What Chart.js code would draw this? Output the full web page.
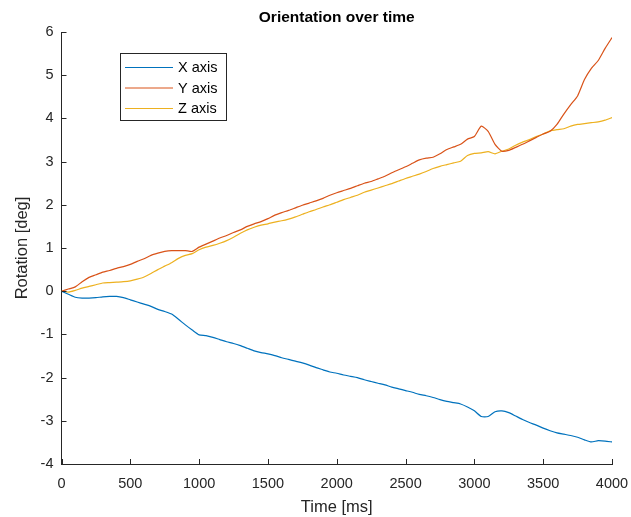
<!DOCTYPE html>
<html>
<head>
<meta charset="utf-8">
<script src="https://cdn.jsdelivr.net/npm/chart.js@4/dist/chart.umd.min.js"></script>
<style>
  html, body { margin: 0; padding: 0; background: #fff; }
  #wrap { width: 631px; height: 517px; }
</style>
</head>
<body>
<div id="wrap"><canvas id="chart" width="631" height="517"></canvas></div>
<script>
const titleText = "Orientation over time";
const xTitle = "Time [ms]";
const yTitle = "Rotation [deg]";
const seriesLabels = ["X axis", "Y axis", "Z axis"];
const seriesColors = ["#0072BD", "#D95319", "#EDB120"];

// time stamps in ms
const time = [
  0, 50, 100, 150, 200, 250, 300, 350, 400, 450,
  500, 550, 600, 650, 700, 750, 800, 850, 900, 950,
  1000, 1050, 1100, 1150, 1200, 1250, 1300, 1350, 1400, 1450,
  1500, 1550, 1600, 1650, 1700, 1750, 1800, 1850, 1900, 1950,
  2000, 2050, 2100, 2150, 2200, 2250, 2300, 2350, 2400, 2450,
  2500, 2550, 2600, 2650, 2700, 2750, 2800, 2850, 2900, 2950,
  3000, 3050, 3100, 3150, 3200, 3250, 3300, 3350, 3400, 3450,
  3500, 3550, 3600, 3650, 3700, 3750, 3800, 3850, 3900, 3950,
  4000
];

const rotX = [
  0, -0.07, -0.14, -0.16, -0.16, -0.15, -0.13, -0.12, -0.12, -0.15,
  -0.20, -0.25, -0.30, -0.35, -0.42, -0.47, -0.53, -0.65, -0.78, -0.90,
  -1.01, -1.03, -1.07, -1.12, -1.17, -1.21, -1.26, -1.32, -1.38, -1.42,
  -1.45, -1.49, -1.54, -1.58, -1.62, -1.66, -1.71, -1.77, -1.82, -1.87,
  -1.90, -1.94, -1.97, -2.00, -2.05, -2.09, -2.13, -2.17, -2.22, -2.26,
  -2.30, -2.34, -2.39, -2.42, -2.46, -2.51, -2.55, -2.58, -2.61, -2.68,
  -2.77, -2.90, -2.90, -2.79, -2.77, -2.81, -2.89, -2.97, -3.04, -3.10,
  -3.17, -3.23, -3.28, -3.31, -3.34, -3.38, -3.44, -3.49, -3.46, -3.47,
  -3.49
];

const rotY = [
  0, 0.05, 0.10, 0.22, 0.32, 0.38, 0.44, 0.48, 0.53, 0.57,
  0.62, 0.69, 0.75, 0.83, 0.88, 0.92, 0.94, 0.94, 0.94, 0.92,
  1.02, 1.09, 1.16, 1.23, 1.29, 1.36, 1.42, 1.50, 1.56, 1.61,
  1.68, 1.76, 1.82, 1.87, 1.93, 1.99, 2.04, 2.09, 2.15, 2.22,
  2.28, 2.33, 2.38, 2.44, 2.50, 2.54, 2.60, 2.66, 2.74, 2.81,
  2.88, 2.96, 3.04, 3.08, 3.10, 3.18, 3.28, 3.34, 3.40, 3.52,
  3.58, 3.82, 3.70, 3.40, 3.24, 3.26, 3.33, 3.40, 3.48, 3.56,
  3.64, 3.70, 3.86, 4.10, 4.32, 4.52, 4.90, 5.16, 5.34, 5.62,
  5.87
];

const rotZ = [
  0, -0.02, 0.02, 0.07, 0.11, 0.15, 0.19, 0.20, 0.21, 0.22,
  0.24, 0.28, 0.33, 0.41, 0.50, 0.58, 0.66, 0.76, 0.83, 0.87,
  0.96, 1.02, 1.06, 1.11, 1.17, 1.25, 1.34, 1.42, 1.48, 1.53,
  1.56, 1.60, 1.63, 1.67, 1.72, 1.78, 1.84, 1.89, 1.95, 2.00,
  2.06, 2.12, 2.17, 2.22, 2.29, 2.34, 2.39, 2.44, 2.49, 2.55,
  2.61, 2.66, 2.71, 2.77, 2.84, 2.89, 2.93, 2.97, 3.01, 3.14,
  3.19, 3.20, 3.23, 3.18, 3.24, 3.29, 3.38, 3.45, 3.51, 3.58,
  3.64, 3.71, 3.74, 3.76, 3.82, 3.86, 3.88, 3.90, 3.92, 3.96,
  4.02
];

const xMin = 0, xMax = 4000, xStep = 500;
const yMin = -4, yMax = 6, yStep = 1;

const axisColor = "#262626";
const fontFamily = "'Liberation Sans', Arial, Helvetica, sans-serif";

const toPoints = (vals) => vals.map((v, i) => ({ x: time[i], y: v }));

// MATLAB style extras: inward ticks, titles and a boxed legend
const matlabStyle = {
  id: "matlabStyle",
  afterDraw(chart) {
    const { ctx, chartArea, scales } = chart;
    const xs = scales.x, ys = scales.y;
    ctx.save();
    ctx.strokeStyle = axisColor;
    ctx.lineWidth = 1;
    ctx.beginPath();
    xs.ticks.forEach(t => {
      const px = Math.round(xs.getPixelForValue(t.value)) + 0.5;
      ctx.moveTo(px, chartArea.bottom);
      ctx.lineTo(px, chartArea.bottom - 5);
    });
    ys.ticks.forEach(t => {
      const py = Math.round(ys.getPixelForValue(t.value)) + 0.5;
      ctx.moveTo(chartArea.left, py);
      ctx.lineTo(chartArea.left + 5, py);
    });
    ctx.stroke();

    ctx.fillStyle = "#000";
    ctx.textAlign = "center";
    ctx.textBaseline = "middle";
    ctx.font = "bold 15.5px " + fontFamily;
    ctx.fillText(titleText, (chartArea.left + chartArea.right) / 2, 18);

    ctx.fillStyle = axisColor;
    ctx.font = "16.5px " + fontFamily;
    ctx.fillText(xTitle, (chartArea.left + chartArea.right) / 2, 507);
    ctx.save();
    ctx.translate(22, (chartArea.top + chartArea.bottom) / 2);
    ctx.rotate(-Math.PI / 2);
    ctx.fillText(yTitle, 0, 0);
    ctx.restore();

    // legend box
    const bx = 120.5, by = 53.5, bw = 106, bh = 67;
    ctx.fillStyle = "#fff";
    ctx.fillRect(bx, by, bw, bh);
    ctx.strokeStyle = "#262626";
    ctx.strokeRect(bx, by, bw, bh);
    ctx.font = "14.5px " + fontFamily;
    ctx.textAlign = "left";
    chart.data.datasets.forEach((ds, i) => {
      const ly = 67 + i * 20.5;
      ctx.strokeStyle = ds.borderColor;
      ctx.beginPath();
      ctx.moveTo(125, ly + 0.5);
      ctx.lineTo(173, ly + 0.5);
      ctx.stroke();
      ctx.fillStyle = "#000";
      ctx.fillText(ds.label, 178, ly + 1);
    });
    ctx.restore();
  }
};

new Chart(document.getElementById("chart"), {
  type: "line",
  data: {
    datasets: [
      { label: seriesLabels[0], data: toPoints(rotX), borderColor: seriesColors[0] },
      { label: seriesLabels[1], data: toPoints(rotY), borderColor: seriesColors[1] },
      { label: seriesLabels[2], data: toPoints(rotZ), borderColor: seriesColors[2] }
    ]
  },
  plugins: [matlabStyle],
  options: {
    responsive: false,
    animation: false,
    devicePixelRatio: 1,
    layout: { padding: { top: 32, right: 19, left: 0, bottom: 0 } },
    elements: {
      point: { radius: 0 },
      line: { borderWidth: 1.2, tension: 0.2 }
    },
    plugins: {
      legend: { display: false },
      title: { display: false },
      tooltip: { enabled: false }
    },
    scales: {
      x: {
        type: "linear",
        min: xMin, max: xMax,
        afterFit: (s) => { s.height = 53; s.paddingLeft = 0; s.paddingRight = 0; },
        ticks: {
          stepSize: xStep,
          color: axisColor,
          padding: 11,
          maxRotation: 0,
          callback: (v) => String(v),
          font: { family: fontFamily, size: 14.5 }
        },
        grid: { display: false, drawTicks: false },
        border: { display: true, color: axisColor, width: 1 }
      },
      y: {
        min: yMin, max: yMax,
        afterFit: (s) => { s.width = 61.5; s.paddingTop = 0; s.paddingBottom = 0; },
        ticks: {
          stepSize: yStep,
          color: axisColor,
          padding: 8,
          callback: (v) => String(v),
          font: { family: fontFamily, size: 14.5 }
        },
        grid: { display: false, drawTicks: false },
        border: { display: true, color: axisColor, width: 1 }
      }
    }
  }
});
</script>
</body>
</html>
